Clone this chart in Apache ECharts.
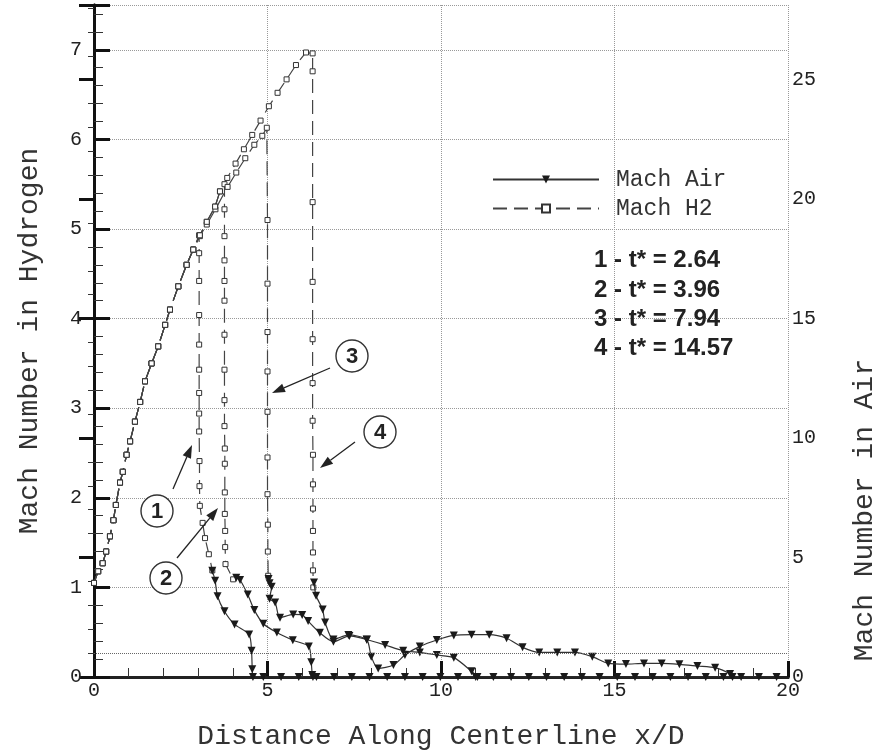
<!DOCTYPE html>
<html>
<head>
<meta charset="utf-8">
<script src="https://cdn.jsdelivr.net/npm/echarts@6/dist/echarts.min.js"></script>
<style>html,body{margin:0;padding:0;background:#fff}#c{width:878px;height:752px}</style>
</head>
<body>
<div id="c"></div>
<script>
// ---- data (x/D, Mach) ----
const xTicks = [0, 5, 10, 15, 20];
const h2RiseCommon = [[0,1.05],[0.12,1.18],[0.25,1.27],[0.35,1.40],[0.46,1.57],[0.56,1.75],[0.63,1.92],[0.75,2.17],[0.83,2.29],[0.94,2.48],[1.04,2.63],[1.18,2.85],[1.33,3.07],[1.47,3.30],[1.66,3.50],[1.85,3.69],[2.05,3.93],[2.19,4.10],[2.43,4.36],[2.67,4.60],[2.86,4.77]];
const h2Curve1Tail = [[3.03,4.93],[3.03,4.73],[3.03,4.42],[3.03,4.04],[3.03,3.71],[3.03,3.43],[3.03,3.17],[3.03,2.94],[3.03,2.74],[3.04,2.41],[3.04,2.13],[3.05,1.91],[3.13,1.72],[3.20,1.55],[3.31,1.37],[3.41,1.19]];
const h2Curve2Tail = [[3.05,4.93],[3.25,5.08],[3.49,5.25],[3.63,5.42],[3.76,5.50],[3.76,5.22],[3.76,4.92],[3.76,4.65],[3.76,4.42],[3.76,4.20],[3.76,3.82],[3.76,3.43],[3.76,3.09],[3.76,2.80],[3.77,2.55],[3.77,2.38],[3.77,2.06],[3.77,1.82],[3.78,1.63],[3.78,1.45],[3.79,1.26],[4.01,1.09]];
const h2Curve3Tail = [[3.05,4.92],[3.25,5.05],[3.50,5.22],[3.85,5.47],[4.10,5.63],[4.36,5.79],[4.62,5.94],[4.85,6.04],[4.98,6.13],[5.00,5.10],[5.00,4.39],[5.00,3.85],[5.00,3.41],[5.00,2.96],[5.00,2.45],[5.00,2.04],[5.01,1.70],[5.01,1.40],[5.02,1.13]];
const h2Curve4Tail = [[3.05,4.93],[3.25,5.08],[3.49,5.25],[3.63,5.42],[3.84,5.57],[4.08,5.73],[4.32,5.89],[4.56,6.05],[4.80,6.21],[5.04,6.37],[5.29,6.52],[5.55,6.67],[5.82,6.83],[6.11,6.97],[6.30,6.96],[6.30,6.76],[6.30,5.30],[6.30,4.41],[6.30,3.77],[6.30,3.28],[6.30,2.86],[6.31,2.48],[6.31,2.15],[6.31,1.88],[6.31,1.63],[6.31,1.39],[6.31,1.19],[6.32,1.00]];

const airCurve1 = [[3.41,4.45],[3.49,4.03],[3.56,3.38],[3.76,2.75],[4.05,2.20],[4.47,1.78],[4.54,1.10],[4.56,0.32],[4.58,0],[4.88,0],[5.39,0],[5.90,0],[6.41,0],[6.92,0],[7.43,0],[7.94,0],[8.45,0],[8.96,0],[9.47,0],[9.98,0],[10.49,0],[11.00,0],[11.51,0],[12.02,0],[12.53,0],[13.04,0],[13.55,0],[14.06,0],[14.57,0],[15.08,0],[15.59,0],[16.10,0],[16.61,0],[17.12,0],[17.63,0],[18.14,0],[18.65,0],[19.16,0],[19.67,0]];
const airCurve2 = [[4.10,4.15],[4.21,4.06],[4.43,3.45],[4.62,2.80],[4.88,2.23],[5.27,1.86],[5.73,1.54],[6.19,1.28],[6.26,0.62],[6.29,0.08],[6.31,0]];
const airCurve3 = [[5.03,4.10],[5.06,3.92],[5.12,3.78],[5.06,3.28],[5.22,3.12],[5.36,2.48],[5.74,2.62],[6.00,2.60],[6.17,2.34],[6.51,1.85],[6.90,1.48],[7.36,1.72],[7.86,1.57],[8.39,1.34],[8.91,1.10],[9.39,1.03],[9.88,0.92],[10.37,0.81],[10.88,0.24],[11.05,0]];
const airCurve4 = [[6.34,3.95],[6.40,3.40],[6.59,2.82],[6.66,2.28],[6.90,1.57],[7.33,1.76],[7.86,1.56],[7.99,0.85],[8.19,0.36],[8.63,0.50],[8.96,0.92],[9.39,1.28],[9.88,1.55],[10.37,1.74],[10.88,1.77],[11.39,1.77],[11.89,1.62],[12.35,1.24],[12.83,1.03],[13.35,1.03],[13.86,1.03],[14.36,0.85],[14.82,0.57],[15.33,0.54],[15.85,0.57],[16.36,0.57],[16.87,0.53],[17.39,0.46],[17.90,0.39],[18.33,0.13],[18.40,0]];
const airSonicLine = [1];
const legendNames = ['Mach Air', 'Mach H2'];
const tStarLabels = ['1 - t* = 2.64', '2 - t* = 3.96', '3 - t* = 7.94', '4 - t* = 14.57'];

const MONO = 'Liberation Mono';
const chart = echarts.init(document.getElementById('c'), null, {renderer: 'canvas'});

function h2Series(data) {
  return {
    name: 'Mach H2', type: 'line', yAxisIndex: 0, data: data,
    symbol: 'rect', symbolSize: 5, showAllSymbol: true,
    itemStyle: {color: '#fff', borderColor: '#333', borderWidth: 1},
    lineStyle: {color: '#444', width: 1.2, type: [14, 7]},
    z: 3
  };
}
function airSeries(data, extra) {
  return Object.assign({
    name: 'Mach Air', type: 'line', yAxisIndex: 1, data: data,
    symbol: 'triangle', symbolRotate: 180, symbolSize: 8, showAllSymbol: true,
    smooth: 0.25,
    itemStyle: {color: '#1a1a1a'},
    lineStyle: {color: '#333', width: 1.2},
    z: 4
  }, extra || {});
}

function arrow(x1, y1, x2, y2) {
  const a = Math.atan2(y2 - y1, x2 - x1), L = 13, W = 4.5;
  const bx = x2 - L * Math.cos(a), by = y2 - L * Math.sin(a);
  const px = -Math.sin(a) * W, py = Math.cos(a) * W;
  return [
    {type: 'line', shape: {x1: x1, y1: y1, x2: bx, y2: by}, style: {stroke: '#222', lineWidth: 1.3}, z: 10},
    {type: 'polygon', shape: {points: [[x2, y2], [bx + px, by + py], [bx - px, by - py]]}, style: {fill: '#222'}, z: 10}
  ];
}
function circled(cx, cy, t) {
  return [
    {type: 'circle', shape: {cx: cx, cy: cy, r: 16}, style: {fill: '#fff', stroke: '#333', lineWidth: 1.4}, z: 10},
    {type: 'text', x: cx, y: cy + 1, style: {text: t, fontFamily: 'Liberation Sans', fontWeight: 'bold', fontSize: 22, fill: '#222', align: 'center', verticalAlign: 'middle'}, z: 11}
  ];
}

const graphics = [].concat(
  arrow(173, 489, 192, 445), arrow(177, 558, 218, 508), arrow(330, 368, 272, 393), arrow(355, 442, 320, 468),
  circled(157, 511, '1'), circled(166, 578, '2'), circled(352, 356, '3'), circled(380, 432, '4'),
  tStarLabels.map((t, i) => ({type: 'text', x: 594, y: [260, 290, 319, 348][i], style: {text: t, fontFamily: 'Liberation Sans', fontWeight: 'bold', fontSize: 24, fill: '#222', align: 'left', verticalAlign: 'middle'}, z: 10})),
  [{type: 'text', x: 865, y: 510, rotation: Math.PI / 2, style: {text: 'Mach Number in Air', fontFamily: MONO, fontSize: 28, fill: '#333', align: 'center', verticalAlign: 'middle'}}]
);

const dotted = {show: true, lineStyle: {type: 'dotted', color: '#999', width: 1}};

chart.setOption({
  animation: false,
  backgroundColor: '#fff',
  grid: {left: 94, right: 90, top: 5, bottom: 75, containLabel: false, outerBoundsMode: 'none'},
  legend: {
    orient: 'vertical', left: 487, top: 163, itemWidth: 106, itemHeight: 10, itemGap: 6,
    data: legendNames,
    textStyle: {fontFamily: MONO, fontSize: 23, color: '#333', padding: [0, 0, 0, 12]}
  },
  xAxis: [{
    type: 'value', min: xTicks[0], max: xTicks[xTicks.length - 1], interval: 5,
    name: 'Distance Along Centerline x/D', nameLocation: 'middle', nameGap: 46,
    nameTextStyle: {fontFamily: MONO, fontSize: 28, color: '#333'},
    axisLine: {lineStyle: {color: '#111', width: 3}},
    axisTick: {inside: true, length: 16, lineStyle: {color: '#111', width: 3}},
    minorTick: {show: true, splitNumber: 5, length: 9, lineStyle: {color: '#333', width: 1}},
    axisLabel: {fontFamily: MONO, fontSize: 20, color: '#222', margin: 4},
    splitLine: dotted
  }, {
    type: 'value', position: 'top', min: 0, max: 20,
    axisLine: {show: true, lineStyle: {color: '#222', width: 3}},
    axisTick: {show: false}, axisLabel: {show: false}, splitLine: {show: false}
  }],
  yAxis: [{
    type: 'value', min: 0, max: 7.5, interval: 1, position: 'left',
    name: 'Mach Number in Hydrogen', nameLocation: 'middle', nameGap: 50,
    nameTextStyle: {fontFamily: MONO, fontSize: 28, color: '#333'},
    axisLine: {show: true, lineStyle: {color: '#111', width: 3}},
    axisTick: {inside: true, length: 16, lineStyle: {color: '#111', width: 3}},
    minorTick: {show: true, splitNumber: 5, length: 9, lineStyle: {color: '#333', width: 1}},
    axisLabel: {fontFamily: MONO, fontSize: 20, color: '#222', margin: 12, showMaxLabel: false},
    splitLine: dotted
  }, {
    type: 'value', min: 0, max: 28.125, interval: 5, position: 'right',
    axisLine: {show: true, lineStyle: {color: '#111', width: 3}},
    axisTick: {inside: true, length: 15, lineStyle: {color: '#111', width: 3}},
    minorTick: {show: true, splitNumber: 5, length: 6, lineStyle: {color: '#333', width: 1}},
    axisLabel: {fontFamily: MONO, fontSize: 20, color: '#222', margin: 4, showMaxLabel: false},
    splitLine: {show: false}
  }],
  series: [
    h2Series(h2RiseCommon.concat(h2Curve1Tail)),
    h2Series(h2RiseCommon.concat(h2Curve2Tail)),
    h2Series(h2RiseCommon.concat(h2Curve3Tail)),
    h2Series(h2RiseCommon.concat(h2Curve4Tail)),
    airSeries(airCurve1, {markLine: {symbol: 'none', silent: true, label: {show: false}, lineStyle: {type: 'dotted', color: '#666', width: 1}, data: airSonicLine.map(v => ({yAxis: v}))}}),
    airSeries(airCurve2),
    airSeries(airCurve3),
    airSeries(airCurve4)
  ],
  graphic: graphics
});
</script>
</body>
</html>
